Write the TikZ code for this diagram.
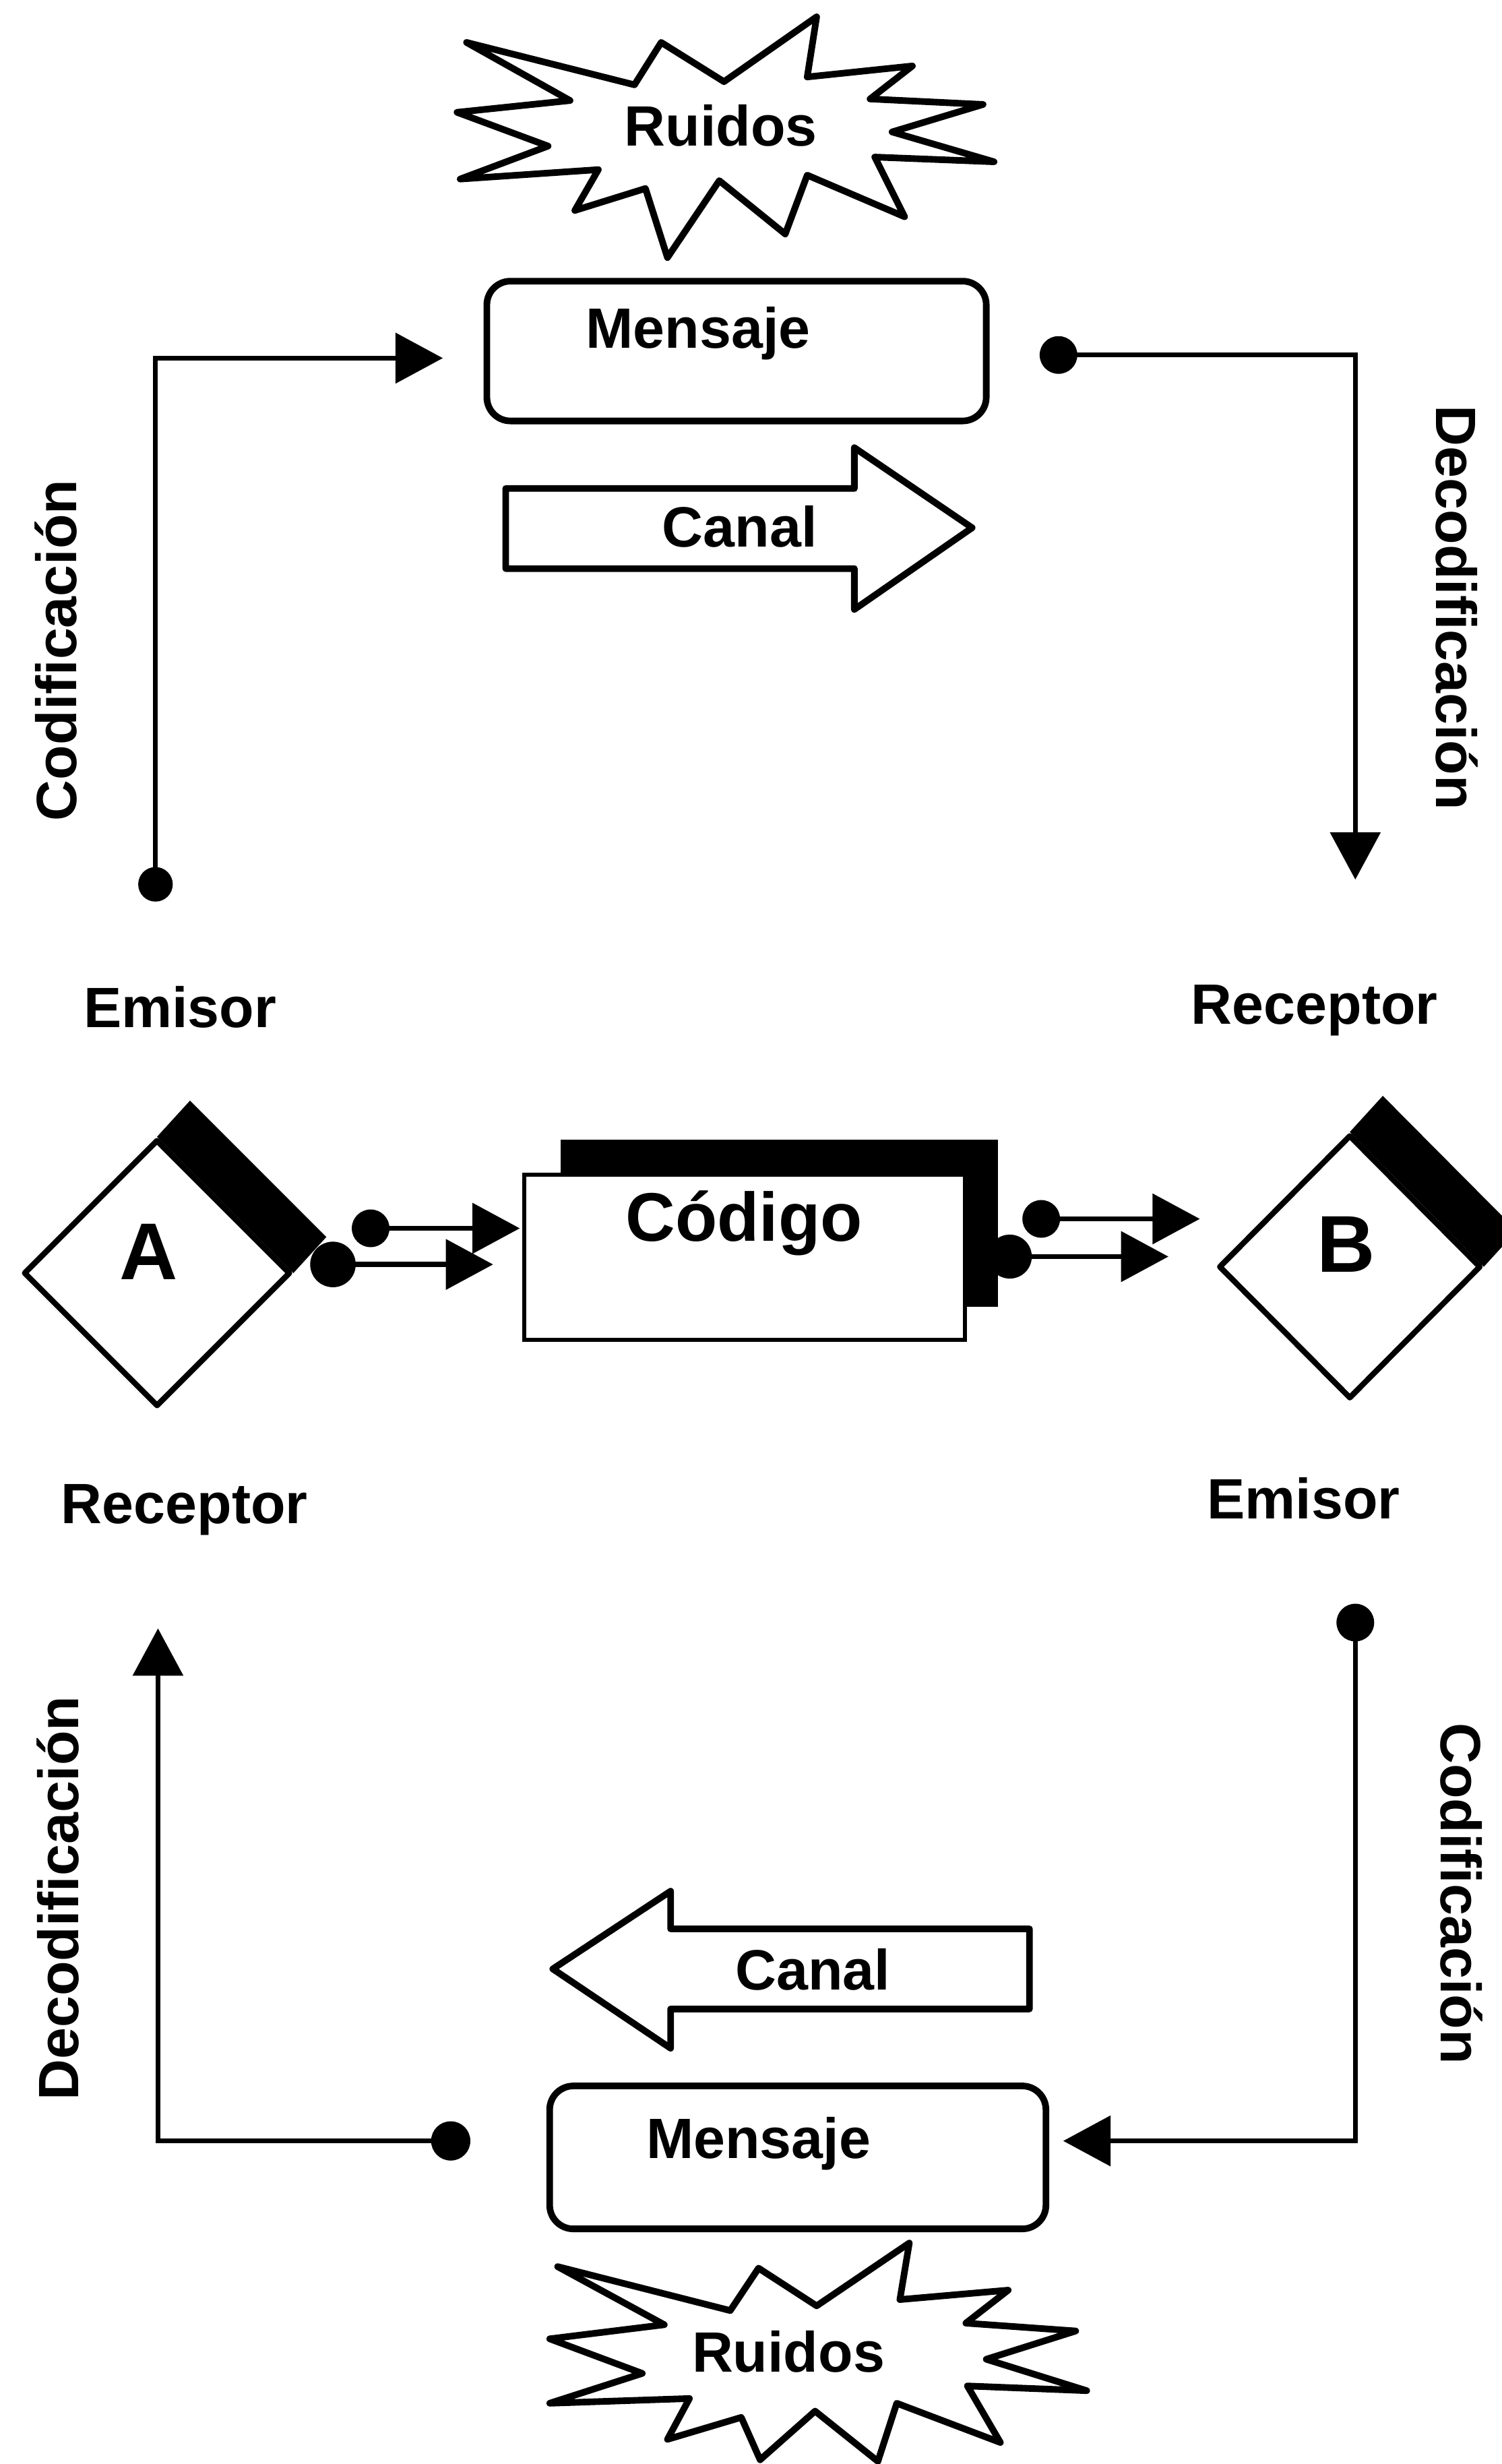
\documentclass[tikz,border=0pt]{standalone}
\usepackage{fontspec}
\setmainfont{Liberation Sans}
\usetikzlibrary{arrows.meta,fit,shapes.geometric}
\begin{document}
\begin{tikzpicture}[x=0.0233055cm,y=-0.0233055cm,
  lbl/.style={font=\fontsize{24}{28}\selectfont\bfseries, inner sep=0pt, anchor=base},
  biglbl/.style={font=\fontsize{34}{40}\selectfont\bfseries, inner sep=0pt, anchor=base},
  conn/.style={line width=2.1pt, -{Triangle[length=20pt,width=21pt]}},
  outline/.style={draw, line width=2.8pt, line join=round, fill=white},
  dia/.style={diamond, draw, line width=2.4pt, line join=round, fill=white, inner sep=0pt},
  band/.style={fill=black}]
\useasboundingbox (0,0) rectangle (956,1568.7);

% ---------- top starburst ----------
\draw[outline] (297,27) -- (404,54) -- (421,27) -- (461,52) -- (520,10.7) -- (514,49)
  -- (581,42) -- (554,63) -- (626,66.5) -- (568,84) -- (633,103) -- (557,100)
  -- (576,138) -- (514,111.5) -- (500,149) -- (458,115) -- (425,164) -- (411,120)
  -- (366,134) -- (381,108) -- (293,114) -- (349,93) -- (291,71.5) -- (363,64) -- cycle;
\node[lbl] (ruidos1) at (459,93) {Ruidos};

% ---------- top message & channel ----------
\node[outline, fit={(310,179) (628,268)}, inner sep=0pt, rounded corners=10pt] (msg1) {};
\node[lbl] (msg1t) at (444.5,221.7) {Mensaje};
\draw[outline] (322,311) -- (544,311) -- (544,285) -- (619,336) -- (544,388) -- (544,362) -- (322,362) -- cycle;
\node[lbl] (canal1) at (471,348) {Canal};

% ---------- top connectors ----------
\coordinate (dTL) at (99,563);
\coordinate (tTL) at (282,228);
\draw[conn] (dTL) |- (tTL);
\fill (dTL) circle (11);
\coordinate (dTR) at (674,226);
\coordinate (tTR) at (863,560);
\draw[conn] (dTR) -| (tTR);
\fill (dTR) circle (12);

\node[lbl, rotate=90] (cod1) at (48.5,414) {Codificación};
\node[lbl, rotate=-90] (dec1) at (914.6,387) {Decodificación};
\node[lbl] (emisor1) at (114.6,654) {Emisor};
\node[lbl] (receptor1) at (837,652) {Receptor};

% ---------- middle: A, Codigo, B ----------
\node[dia, minimum width=112.7pt, minimum height=112.7pt] (A) at (100,810.5) {};
\fill[band] (A.north) -- ++(21,-23) -- ([shift={(21,-23)}]A.east) -- (A.east) -- cycle;
\node[biglbl] (At) at (94.8,814.4) {A};

\node[dia, minimum width=110.7pt, minimum height=111.4pt] (B) at (859.5,806.5) {};
\fill[band] (B.north) -- ++(21,-23) -- ([shift={(21,-23)}]B.east) -- (B.east) -- cycle;
\node[biglbl] (Bt) at (857,810) {B};

\node[fit={(357,725.5) (635.6,832)}, inner sep=0pt, fill=black] (codsh) {};
\node[fit={(334,747.7) (614.6,853)}, inner sep=0pt, draw, fill=white, line width=1.7pt] (cod) {};
\node[font=\fontsize{29}{34}\selectfont\bfseries, inner sep=0pt, anchor=base] (codt) at (473.8,790) {Código};

\coordinate (dA1) at (236,782); \coordinate (tA1) at (331,782);
\coordinate (dA2) at (212,805); \coordinate (tA2) at (314,805);
\draw[conn] (dA1) -- (tA1); \fill (dA1) circle (12);
\draw[conn] (dA2) -- (tA2); \fill (dA2) circle (14.5);
\coordinate (dB1) at (663,776); \coordinate (tB1) at (764,776);
\coordinate (dB2) at (643,800); \coordinate (tB2) at (744,800);
\draw[conn] (dB1) -- (tB1); \fill (dB1) circle (12);
\draw[conn] (dB2) -- (tB2); \fill (dB2) circle (14);

\node[lbl] (receptor2) at (117.5,970) {Receptor};
\node[lbl] (emisor2) at (830,967) {Emisor};

% ---------- bottom connectors ----------
\coordinate (dBR) at (863,1033);
\coordinate (tBR) at (677,1363);
\draw[conn] (dBR) |- (tBR);
\fill (dBR) circle (12);
\coordinate (dBL) at (287,1363);
\coordinate (tBL) at (100.6,1036.7);
\draw[conn] (dBL) -| (tBL);
\fill (dBL) circle (12.5);

\node[lbl, rotate=90] (dec2) at (50,1208.5) {Decodificación};
\node[lbl, rotate=-90] (cod2) at (917.7,1205.5) {Codificación};

% ---------- bottom channel & message ----------
\draw[outline] (655.5,1228) -- (427,1228) -- (427,1204) -- (352,1253.5) -- (427,1304) -- (427,1279) -- (655.5,1279) -- cycle;
\node[lbl] (canal2) at (517.5,1267) {Canal};
\node[outline, fit={(350,1328) (666,1419)}, inner sep=0pt, rounded corners=10pt] (msg2) {};
\node[lbl] (msg2t) at (483,1374) {Mensaje};

% ---------- bottom starburst ----------
\draw[outline] (355,1443) -- (465,1471) -- (483,1444) -- (520,1468) -- (579,1428) -- (573,1464)
  -- (642,1458) -- (615,1479) -- (685,1484) -- (628,1502) -- (692,1522) -- (616,1519)
  -- (637,1555) -- (571,1530) -- (559,1567) -- (519,1535) -- (484,1566) -- (472,1539)
  -- (425,1553) -- (439,1527) -- (350,1530) -- (409,1511) -- (350,1489) -- (423,1480) -- cycle;
\node[lbl] (ruidos2) at (502,1510) {Ruidos};
\end{tikzpicture}
\end{document}
